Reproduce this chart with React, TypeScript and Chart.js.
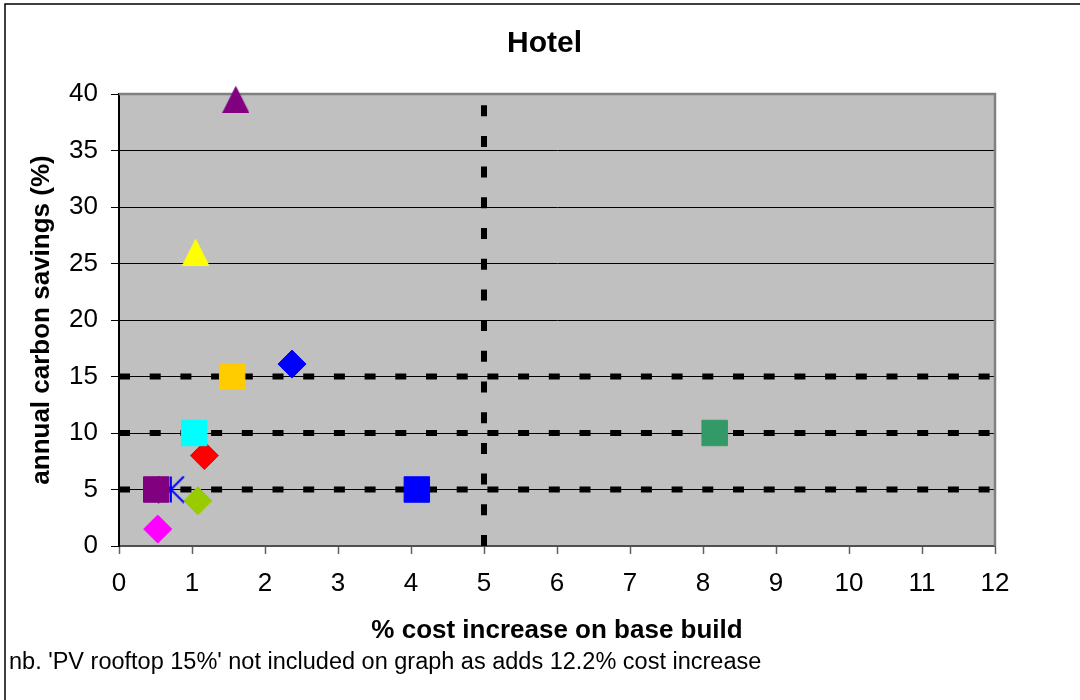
import React, { useEffect, useRef } from "react";
import { Chart, registerables } from "chart.js";

Chart.register(...registerables);

const FONT = "'Liberation Sans', Arial, Helvetica, sans-serif";

const chartTitle = "Hotel";
const xAxisTitle = "% cost increase on base build";
const yAxisTitle = "annual carbon savings (%)";
const footnote = "nb. 'PV rooftop 15%' not included on graph as adds 12.2% cost increase";

const xMin = 0;
const xMax = 12;
const xStep = 1;
const yMin = 0;
const yMax = 40;
const yStep = 5;

const measureNames = [
  "Measure 1", "Measure 2", "Measure 3", "Measure 4", "Measure 5", "Measure 6",
  "Measure 7", "Measure 8", "Measure 9", "Measure 10", "Measure 11", "Measure 12",
];
const costIncrease = [1.6, 1.05, 1.55, 2.37, 1.03, 1.17, 0.51, 0.71, 1.08, 0.53, 4.08, 8.16];
const carbonSavings = [39.5, 26, 15, 16.1, 10, 8, 5, 5, 4, 1.5, 5, 10];
const markerColors = [
  "#800080", "#FFFF00", "#FFCC00", "#0000FF", "#00FFFF", "#FF0000",
  "#800080", "#0000FF", "#99CC00", "#FF00FF", "#0000FF", "#339966",
];
const markerShapes = [
  "triangle", "triangle", "square", "diamond", "square", "diamond",
  "square", "star", "diamond", "diamond", "square", "square",
];
const markerLayer = [3, 3, 3, 3, 1, 3, 1, 2, 3, 3, 3, 3];

const guideSavings = [5, 10, 15];
const guideCost = [5];

function makeTriangle(color: string) {
  const c = document.createElement("canvas");
  c.width = 27;
  c.height = 27;
  const g = c.getContext("2d")!;
  g.fillStyle = color;
  g.strokeStyle = color;
  g.lineWidth = 1;
  g.beginPath();
  g.moveTo(13.5, 0.5);
  g.lineTo(26.5, 26.5);
  g.lineTo(0.5, 26.5);
  g.closePath();
  g.fill();
  g.stroke();
  return c;
}

function makeStar(color: string) {
  const c = document.createElement("canvas");
  c.width = 28;
  c.height = 28;
  const g = c.getContext("2d")!;
  g.strokeStyle = color;
  g.lineWidth = 2;
  g.beginPath();
  g.moveTo(14, 1);
  g.lineTo(14, 27);
  g.moveTo(1, 1);
  g.lineTo(27, 27);
  g.moveTo(27, 1);
  g.lineTo(1, 27);
  g.stroke();
  return c;
}

const framePlugin = {
  id: "frame",
  beforeDraw(chart: any) {
    const { ctx, chartArea: a, width, height } = chart;
    ctx.save();
    ctx.fillStyle = "#ffffff";
    ctx.fillRect(0, 0, width, height);
    ctx.strokeStyle = "#000000";
    ctx.lineWidth = 1.5;
    ctx.beginPath();
    ctx.moveTo(5, height + 10);
    ctx.lineTo(5, 4);
    ctx.lineTo(width + 10, 4);
    ctx.stroke();
    ctx.fillStyle = "#C0C0C0";
    ctx.fillRect(a.left, a.top, a.right - a.left, a.bottom - a.top);
    ctx.restore();
  },
  beforeDatasetsDraw(chart: any) {
    const { ctx, chartArea: a } = chart;
    ctx.save();
    ctx.strokeStyle = "#808080";
    ctx.lineWidth = 2.5;
    ctx.beginPath();
    ctx.moveTo(a.left, a.top);
    ctx.lineTo(a.right, a.top);
    ctx.lineTo(a.right, a.bottom);
    ctx.stroke();
    ctx.restore();
  },
};

export default function App() {
  const ref = useRef<HTMLCanvasElement>(null);

  useEffect(() => {
    const markerDatasets = costIncrease.map((x, i) => {
      const shape = markerShapes[i];
      let pointStyle: any = "rect";
      let radius = 18;
      if (shape === "diamond") {
        pointStyle = "rectRot";
        radius = 14;
      } else if (shape === "triangle") {
        pointStyle = makeTriangle(markerColors[i]);
        radius = 14;
      } else if (shape === "star") {
        pointStyle = makeStar(markerColors[i]);
        radius = 14;
      }
      return {
        type: "scatter" as const,
        label: measureNames[i],
        data: [{ x, y: carbonSavings[i] }],
        pointStyle,
        pointRadius: radius,
        pointHoverRadius: radius,
        backgroundColor: markerColors[i],
        borderColor: markerColors[i],
        borderWidth: 1,
        showLine: false,
        clip: false as any,
        order: markerLayer[i],
      };
    });

    const guideStyle = {
      type: "scatter" as const,
      showLine: true,
      borderColor: "#000000",
      backgroundColor: "#000000",
      borderWidth: 6,
      borderDash: [11, 19.7],
      borderCapStyle: "butt" as const,
      pointRadius: 0,
      pointHoverRadius: 0,
      order: 10,
    };
    const horizontalGuides = guideSavings.map((v) => ({
      ...guideStyle,
      label: "guide " + v,
      data: [{ x: xMin, y: v }, { x: xMax, y: v }],
    }));
    const verticalGuides = guideCost.map((v) => ({
      ...guideStyle,
      label: "cost guide " + v,
      data: [{ x: v, y: yMin }, { x: v, y: yMax }],
    }));

    const chart = new Chart(ref.current!, {
      type: "scatter",
      data: { datasets: [...markerDatasets, ...horizontalGuides, ...verticalGuides] as any },
      plugins: [framePlugin],
      options: {
        responsive: false,
        devicePixelRatio: 1,
        animation: false,
        events: [],
        layout: { padding: { left: 9, right: 0, top: 0, bottom: 0 } },
        plugins: {
          legend: { display: false },
          tooltip: { enabled: false },
          title: {
            display: true,
            text: chartTitle,
            color: "#000000",
            font: { family: FONT, size: 30, weight: "bold", lineHeight: 1.2 },
            padding: { top: 26, bottom: 32 },
          },
          subtitle: {
            display: true,
            text: footnote,
            position: "bottom",
            align: "start",
            color: "#000000",
            font: { family: FONT, size: 23.5, weight: "normal", lineHeight: 1.2 },
            padding: { top: 0, bottom: 23 },
          },
        },
        scales: {
          x: {
            type: "linear",
            position: "bottom",
            min: xMin,
            max: xMax,
            ticks: {
              stepSize: xStep,
              color: "#000000",
              font: { family: FONT, size: 26 },
              padding: 14,
            },
            grid: {
              drawOnChartArea: false,
              drawTicks: true,
              tickLength: 8,
              tickColor: "#606060",
              tickWidth: 1.5,
            },
            border: { display: true, color: "#505050", width: 2 },
            title: {
              display: true,
              text: xAxisTitle,
              color: "#000000",
              font: { family: FONT, size: 26, weight: "bold", lineHeight: 1.2 },
              padding: { top: 0, bottom: 2 },
            },
            afterFit: (s: any) => {
              s.height = 102.8;
            },
          },
          y: {
            type: "linear",
            position: "left",
            min: yMin,
            max: yMax,
            ticks: {
              stepSize: yStep,
              color: "#000000",
              font: { family: FONT, size: 26 },
              padding: 13,
            },
            grid: {
              color: "#000000",
              lineWidth: 1,
              drawTicks: true,
              tickLength: 8,
              tickColor: "#000000",
            },
            border: { display: true, color: "#000000", width: 2 },
            title: {
              display: true,
              text: yAxisTitle,
              color: "#000000",
              font: { family: FONT, size: 26, weight: "bold", lineHeight: 1.2 },
              padding: { top: 17.5, bottom: 0 },
            },
            afterFit: (s: any) => {
              s.width = 110;
            },
          },
          yRight: {
            type: "linear",
            position: "right",
            display: true,
            ticks: { display: false },
            grid: { display: false, drawTicks: false },
            border: { display: false },
            afterFit: (s: any) => {
              s.width = 85;
            },
          },
        },
      } as any,
    });
    return () => chart.destroy();
  }, []);

  return (
    <div style={{ position: "absolute", left: 0, top: 0, width: 1080, height: 700, background: "#fff" }}>
      <canvas ref={ref} width={1080} height={700} style={{ display: "block" }} />
    </div>
  );
}
